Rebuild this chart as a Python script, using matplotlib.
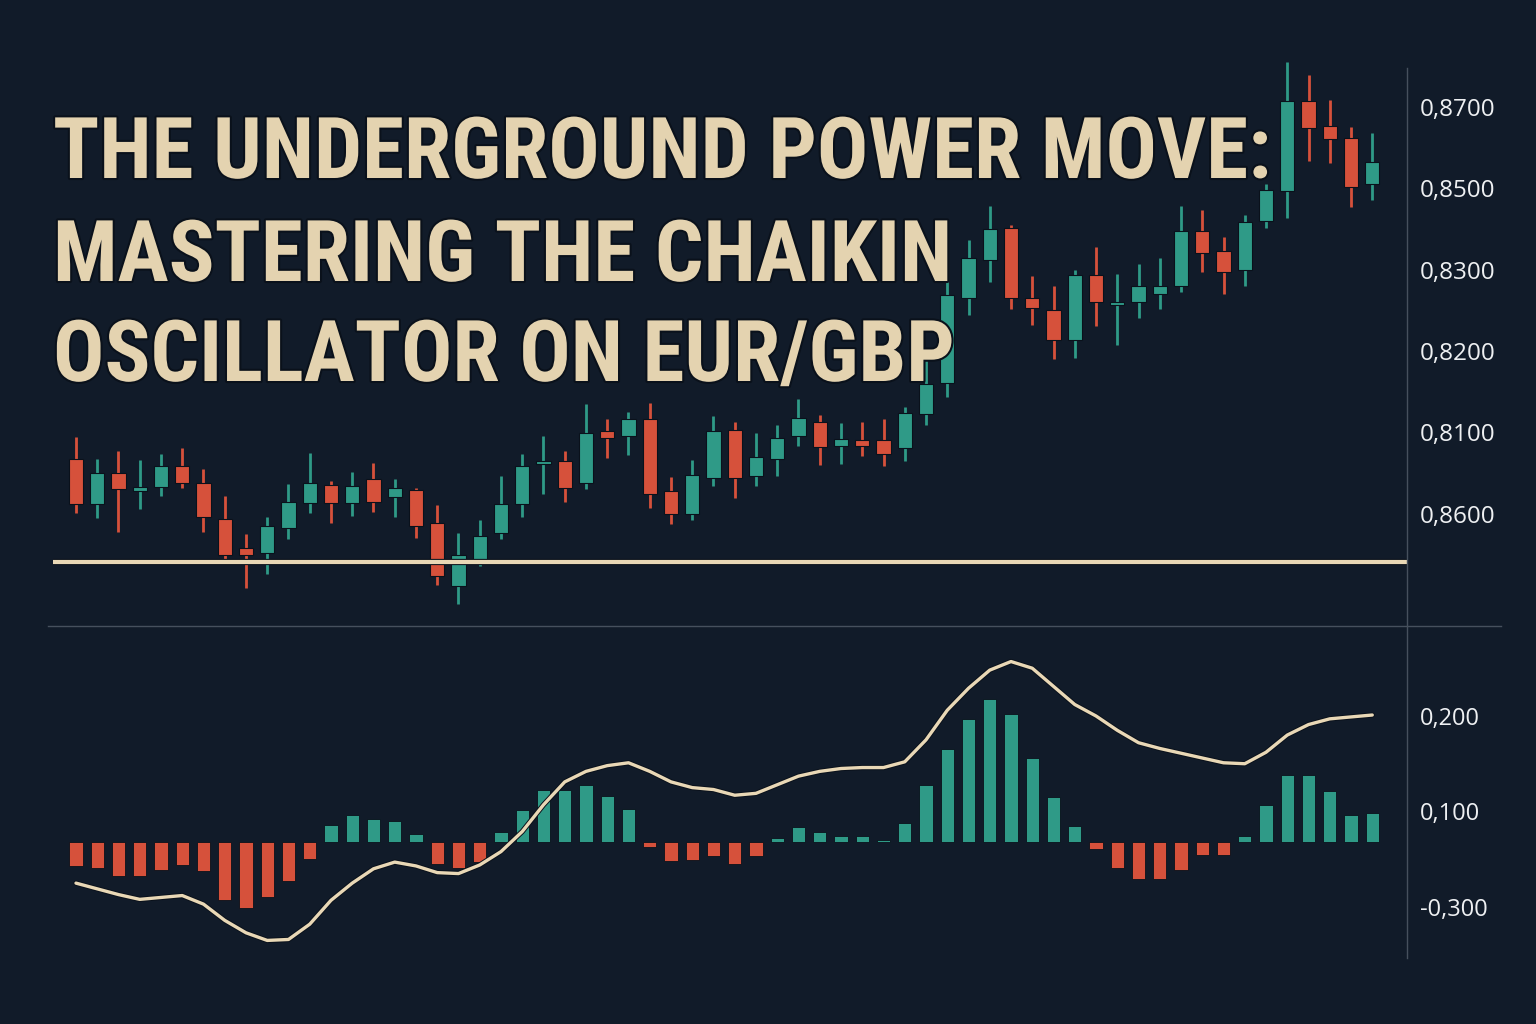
import matplotlib.pyplot as plt
import matplotlib.patheffects as pe
from matplotlib.lines import Line2D

# colours
BG = '#111b29'
RED = '#d6513b'
GREEN = '#2f9a87'
CREAM = '#e9d8b6'
TITLE_C = '#e4d3b0'
GRID_C = '#46505d'
LABEL_C = '#eef0f2'

TITLE_LINES = ['THE UNDERGROUND POWER MOVE:',
               'MASTERING THE CHAIKIN',
               'OSCILLATOR ON EUR/GBP']

# EUR/GBP candles (62 sessions)
opens = [0.8276, 0.8220, 0.8259, 0.8236, 0.8241, 0.8268, 0.8246, 0.8201, 0.8165, 0.8159,
         0.8190, 0.8221, 0.8244, 0.8221, 0.8251, 0.8229, 0.8238, 0.8196, 0.8118, 0.8149,
         0.8184, 0.8220, 0.8270, 0.8274, 0.8246, 0.8311, 0.8305, 0.8326, 0.8236, 0.8208,
         0.8253, 0.8313, 0.8255, 0.8276, 0.8305, 0.8323, 0.8293, 0.8300, 0.8300, 0.8290,
         0.8333, 0.8371, 0.8478, 0.8525, 0.8565, 0.8478, 0.8463, 0.8425, 0.8506, 0.8469,
         0.8473, 0.8483, 0.8493, 0.8561, 0.8536, 0.8513, 0.8574, 0.8611, 0.8724, 0.8693,
         0.8678, 0.8620]
highs = [0.8304, 0.8276, 0.8286, 0.8275, 0.8283, 0.8290, 0.8264, 0.8230, 0.8183, 0.8204,
         0.8245, 0.8284, 0.8249, 0.8260, 0.8271, 0.8251, 0.8240, 0.8219, 0.8184, 0.8200,
         0.8255, 0.8283, 0.8305, 0.8286, 0.8345, 0.8326, 0.8335, 0.8346, 0.8254, 0.8275,
         0.8330, 0.8323, 0.8309, 0.8319, 0.8351, 0.8331, 0.8321, 0.8323, 0.8326, 0.8341,
         0.8403, 0.8504, 0.8550, 0.8593, 0.8569, 0.8505, 0.8493, 0.8513, 0.8541, 0.8508,
         0.8520, 0.8528, 0.8593, 0.8588, 0.8554, 0.8581, 0.8620, 0.8773, 0.8756, 0.8725,
         0.8691, 0.8684]
lows = [0.8209, 0.8203, 0.8185, 0.8214, 0.8230, 0.8240, 0.8185, 0.8148, 0.8115, 0.8133,
        0.8176, 0.8209, 0.8196, 0.8205, 0.8210, 0.8204, 0.8178, 0.8119, 0.8095, 0.8143,
        0.8176, 0.8204, 0.8233, 0.8223, 0.8239, 0.8278, 0.8281, 0.8215, 0.8195, 0.8200,
        0.8243, 0.8228, 0.8243, 0.8255, 0.8293, 0.8269, 0.8270, 0.8280, 0.8268, 0.8274,
        0.8319, 0.8354, 0.8456, 0.8498, 0.8464, 0.8444, 0.8401, 0.8403, 0.8443, 0.8419,
        0.8453, 0.8464, 0.8485, 0.8510, 0.8483, 0.8493, 0.8565, 0.8578, 0.8649, 0.8646,
        0.8591, 0.8600]
closes = [0.8220, 0.8259, 0.8239, 0.8241, 0.8268, 0.8246, 0.8204, 0.8156, 0.8156, 0.8193,
          0.8223, 0.8246, 0.8221, 0.8243, 0.8223, 0.8240, 0.8193, 0.8130, 0.8156, 0.8180,
          0.8220, 0.8268, 0.8274, 0.8240, 0.8309, 0.8303, 0.8326, 0.8233, 0.8208, 0.8256,
          0.8311, 0.8253, 0.8279, 0.8303, 0.8328, 0.8291, 0.8301, 0.8293, 0.8283, 0.8334,
          0.8370, 0.8481, 0.8528, 0.8564, 0.8478, 0.8465, 0.8425, 0.8506, 0.8473, 0.8473,
          0.8493, 0.8493, 0.8561, 0.8534, 0.8510, 0.8573, 0.8613, 0.8724, 0.8690, 0.8676,
          0.8616, 0.8648]
support_level = 0.8148

price_ticks = [0.8716, 0.8615, 0.8513, 0.8411, 0.8310, 0.8208]
price_labels = ['0,8700', '0,8500', '0,8300', '0,8200', '0,8100', '0,8600']

# Chaikin oscillator: histogram around its base and the smoothed line
osc_base = 0.068
osc_hist = [-0.025, -0.027, -0.036, -0.036, -0.029, -0.024, -0.030, -0.061, -0.069, -0.058,
            -0.041, -0.018, 0.018, 0.028, 0.024, 0.022, 0.008, -0.023, -0.027, -0.021,
            0.010, 0.034, 0.054, 0.054, 0.060, 0.048, 0.035, -0.005, -0.020, -0.019,
            -0.015, -0.023, -0.015, 0.004, 0.016, 0.010, 0.006, 0.006, 0.002, 0.020,
            0.060, 0.097, 0.129, 0.150, 0.134, 0.088, 0.047, 0.017, -0.007, -0.027,
            -0.039, -0.039, -0.029, -0.014, -0.014, 0.006, 0.039, 0.070, 0.070, 0.053,
            0.028, 0.030]
osc_line = [0.025, 0.019, 0.013, 0.008, 0.010, 0.012, 0.003, -0.014, -0.027, -0.035,
            -0.034, -0.018, 0.007, 0.025, 0.040, 0.047, 0.043, 0.036, 0.035, 0.044,
            0.058, 0.079, 0.107, 0.131, 0.142, 0.148, 0.151, 0.142, 0.131, 0.125,
            0.123, 0.117, 0.119, 0.128, 0.137, 0.142, 0.145, 0.146, 0.146, 0.152,
            0.175, 0.206, 0.229, 0.248, 0.257, 0.250, 0.231, 0.212, 0.200, 0.185,
            0.172, 0.166, 0.161, 0.156, 0.151, 0.150, 0.162, 0.180, 0.191, 0.197,
            0.199, 0.201]
osc_ticks = [0.2, 0.1, 0.0]
osc_labels = ['0,200', '0,100', '-0,300']

W, H = 1536, 1024
fig = plt.figure(figsize=(15.36, 10.24), dpi=100, facecolor=BG)

def px_axes(x0, y0, x1, y1):
    return fig.add_axes([x0 / W, 1 - y1 / H, (x1 - x0) / W, (y1 - y0) / H])

ax = px_axes(0, 40, 1407, 626)
ax2 = px_axes(0, 626, 1407, 990)

n = len(opens)
idx = list(range(n))
xlim = (-3.576, 62.635)

for a in (ax, ax2):
    a.set_facecolor('none')
    a.set_xlim(*xlim)
    for s in a.spines.values():
        s.set_visible(False)
    a.set_xticks([])
    a.yaxis.tick_right()
    a.tick_params(axis='y', length=0, pad=9.5, labelsize=17.5, labelcolor=LABEL_C)

# candles
cols = [GREEN if c >= o else RED for o, c in zip(opens, closes)]
ax.vlines(idx, lows, highs, colors=cols, linewidth=2.0, zorder=2)
bottoms = [min(o, c) for o, c in zip(opens, closes)]
heights = [max(abs(c - o), 0.0004) for o, c in zip(opens, closes)]
ax.bar(idx, heights, bottom=bottoms, width=0.66, color=cols,
       edgecolor='#0a111b', linewidth=0.8, zorder=3)

ax.hlines(support_level, -1.08, xlim[1], color=CREAM, linewidth=3,
          zorder=4, path_effects=[pe.withStroke(linewidth=4.5, foreground='#0a111b')])
ax.set_ylim(0.80675, 0.880)
ax.set_yticks(price_ticks)
ax.set_yticklabels(price_labels, family='Open Sans')

# oscillator
hcols = [GREEN if v >= 0 else RED for v in osc_hist]
ax2.bar(idx, osc_hist, bottom=osc_base, width=0.63, color=hcols,
        edgecolor='#0a111b', linewidth=0.6, zorder=2)
ax2.plot(idx, osc_line, color=CREAM, linewidth=2.4, solid_capstyle='round',
         solid_joinstyle='round', zorder=3,
         path_effects=[pe.withStroke(linewidth=3.8, foreground='#0a111b')])
ax2.set_ylim(-0.0869, 0.2942)
ax2.set_yticks(osc_ticks)
ax2.set_yticklabels(osc_labels, family='Open Sans', fontsize=17)

# frame lines
fig.add_artist(Line2D([1407 / W, 1407 / W], [1 - 68 / H, 1 - 958 / H],
                      color=GRID_C, linewidth=1.0))
fig.add_artist(Line2D([48 / W, 1501 / W], [1 - 626 / H, 1 - 626 / H],
                      color=GRID_C, linewidth=1.0))

# title
baselines = [178, 281, 381]
titles = []
for line, yb in zip(TITLE_LINES, baselines):
    t = fig.text(53 / W, 1 - yb / H, line, color=TITLE_C, fontsize=60,
                 family=['Roboto Condensed', 'Noto Sans', 'DejaVu Sans'],
                 weight='bold', stretch='extra-condensed',
                 va='baseline', ha='left', zorder=10,
                 path_effects=[pe.withStroke(linewidth=3, foreground='#0a111b')])
    titles.append(t)

fig.canvas.draw()
w = titles[0].get_window_extent().width
scale = 1219 / w
for t in titles:
    t.set_fontsize(60 * scale)

fig.savefig('out.png', dpi=100, facecolor=BG)
